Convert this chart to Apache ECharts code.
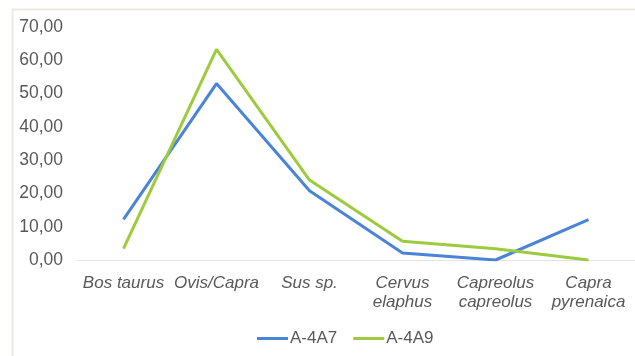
<!DOCTYPE html>
<html>
<head>
<meta charset="utf-8">
<script src="https://cdn.jsdelivr.net/npm/echarts@6/dist/echarts.min.js"></script>
<style>
  html, body { margin: 0; padding: 0; background: #fff; }
  #chart { width: 635px; height: 356px; }
</style>
</head>
<body>
<div id="chart"></div>
<script>
// Species categories (two-line names wrap under the axis)
const categories = ['Bos taurus', 'Ovis/Capra', 'Sus sp.', 'Cervus\nelaphus', 'Capreolus\ncapreolus', 'Capra\npyrenaica'];

// Percentages per sample
const seriesA4A7 = [12.2, 53.0, 20.8, 2.1, 0.0, 12.1];
const seriesA4A9 = [3.4, 63.3, 24.0, 5.6, 3.4, 0.0];

// Value axis ticks
const yMin = 0;
const yMax = 70;
const yStep = 10;

const chart = echarts.init(document.getElementById('chart'), null, { renderer: 'canvas' });

chart.setOption({
  animation: false,
  backgroundColor: '#ffffff',
  graphic: [{
    type: 'rect',
    shape: { x: 12.5, y: 9.5, width: 800, height: 500 },
    style: { fill: 'none', stroke: '#eeeadf', lineWidth: 2 },
    silent: true
  }],
  grid: { left: 77, top: 27, width: 572, height: 233, containLabel: false },
  legend: {
    top: 325,
    left: 252,
    icon: 'rect',
    itemWidth: 31,
    itemHeight: 3,
    itemGap: 16,
    textStyle: { fontFamily: 'Liberation Sans', fontSize: 17, color: '#595959', padding: [0, 0, 0, -3] },
    data: ['A-4A7', 'A-4A9']
  },
  xAxis: {
    type: 'category',
    data: categories,
    boundaryGap: true,
    axisLine: { show: true, lineStyle: { color: '#e3e3e3', width: 1 } },
    axisTick: { show: false },
    axisLabel: {
      interval: 0,
      margin: 14,
      fontFamily: 'Liberation Sans',
      fontStyle: 'italic',
      fontSize: 17,
      lineHeight: 19,
      color: '#595959'
    }
  },
  yAxis: {
    type: 'value',
    min: yMin,
    max: yMax,
    interval: yStep,
    axisLine: { show: false },
    axisTick: { show: false },
    splitLine: { show: false },
    axisLabel: {
      margin: 14,
      fontFamily: 'Liberation Sans',
      fontSize: 17.5,
      color: '#595959',
      formatter: v => v.toFixed(2).replace('.', ',')
    }
  },
  series: [
    {
      name: 'A-4A7',
      type: 'line',
      data: seriesA4A7,
      symbol: 'none',
      lineStyle: { color: '#4a84d6', width: 3 },
      itemStyle: { color: '#4a84d6' }
    },
    {
      name: 'A-4A9',
      type: 'line',
      data: seriesA4A9,
      symbol: 'none',
      lineStyle: { color: '#9ccb3e', width: 3 },
      itemStyle: { color: '#9ccb3e' }
    }
  ]
});
</script>
</body>
</html>
